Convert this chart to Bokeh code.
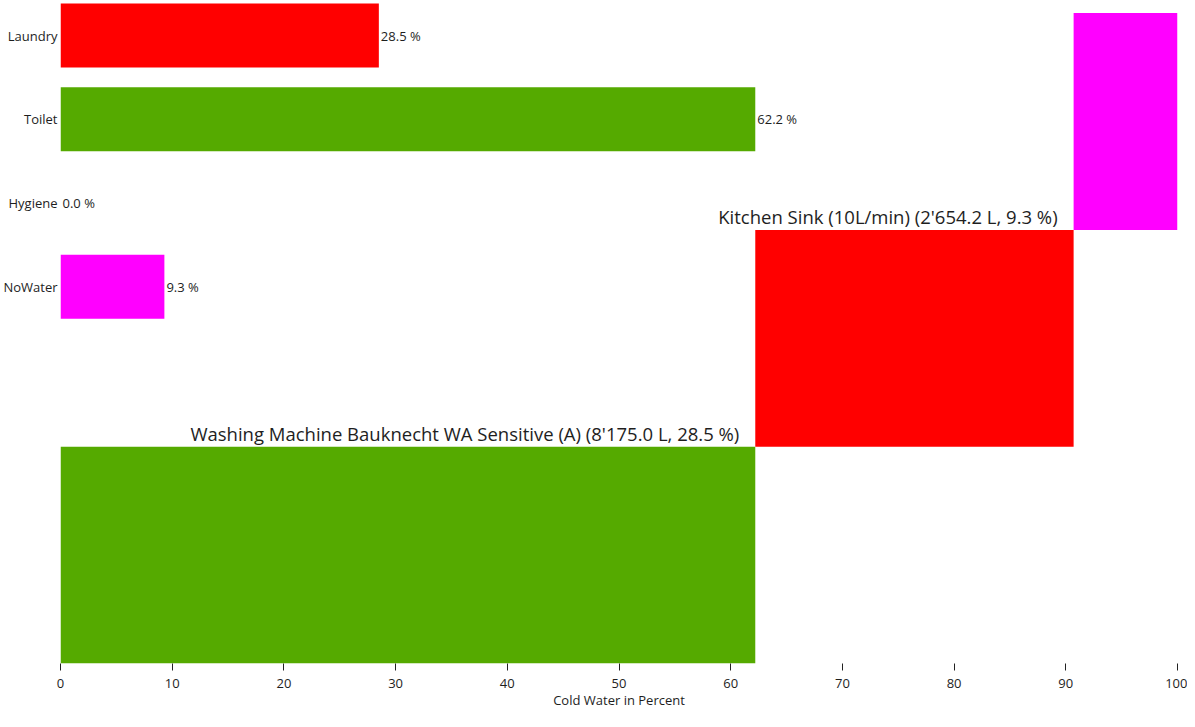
from bokeh.plotting import figure
from bokeh.models import Range1d, FixedTicker, ColumnDataSource
from bokeh.core.properties import value
from bokeh.embed import file_html
from bokeh.resources import INLINE

# ---- data ----
categories = ["Laundry", "Toilet", "Hygiene", "NoWater"]
percent = [28.5, 62.2, 0.0, 9.3]
bar_colors = ["#FF0000", "#55AA00", "#0000FF", "#FF00FF"]

step_order = ["Toilet", "Laundry", "NoWater"]
step_labels = [
    "",
    "Washing Machine Bauknecht WA Sensitive (A) (8'175.0 L, 28.5 %)",
    "Kitchen Sink (10L/min) (2'654.2 L, 9.3 %)",
]
x_ticks = [0, 10, 20, 30, 40, 50, 60, 70, 80, 90, 100]
x_title = "Cold Water in Percent"

FONT = "Open Sans"
TXT = "#1e1e1e"
SMALL = "13px"

# ---- derived sources ----
idx = list(range(len(categories)))
bars = ColumnDataSource(dict(
    y=idx, right=percent, color=bar_colors,
    label=["%.1f %%" % v for v in percent],
))

s_left, s_right, s_bottom, s_top, s_color = [], [], [], [], []
acc = 0.0
for i, name in enumerate(step_order):
    k = categories.index(name)
    s_left.append(acc)
    acc += percent[k]
    s_right.append(acc)
    s_bottom.append(i)
    s_top.append(i + 1)
    s_color.append(bar_colors[k])
steps = ColumnDataSource(dict(left=s_left, right=s_right, bottom=s_bottom,
                              top=s_top, color=s_color, label=step_labels))

# ---- figure ----
p = figure(width=1187, height=711,
           x_range=Range1d(0, 100), y_range=Range1d(7.50, -0.418),
           output_backend="svg", toolbar_location=None,
           min_border_top=0, min_border_right=10, min_border_left=58,
           min_border_bottom=0)
p.extra_y_ranges = {"steps": Range1d(0, 3.058)}
p.outline_line_color = None
p.xgrid.visible = False
p.ygrid.visible = False
p.background_fill_color = "white"
p.border_fill_color = "white"

# big step rectangles
p.quad(left="left", right="right", bottom="bottom", top="top", source=steps,
       fill_color="color", line_color=None, y_range_name="steps")
p.text(x="left", y="bottom", text="label", source=steps, y_range_name="steps",
       text_align="right", text_baseline="bottom", x_offset=-16, y_offset=-1,
       text_font=value(FONT), text_font_size="18.5px", text_color=TXT)

# category bars
p.hbar(y="y", left=0, right="right", height=0.765, source=bars,
       fill_color="color", line_color=None)
p.text(x="right", y="y", text="label", source=bars,
       text_align="left", text_baseline="middle", x_offset=2,
       text_font=value(FONT), text_font_size=SMALL, text_color=TXT)

# x axis
xa = p.xaxis[0]
xa.ticker = FixedTicker(ticks=x_ticks)
xa.axis_line_color = None
xa.major_tick_in = 0
xa.major_tick_out = 7
xa.major_tick_line_color = "#222222"
xa.minor_tick_line_color = None
xa.major_label_standoff = 8
xa.major_label_text_font = FONT
xa.major_label_text_font_size = SMALL
xa.major_label_text_color = TXT
xa.axis_label = x_title
xa.axis_label_standoff = 0
xa.axis_label_text_font = FONT
xa.axis_label_text_font_size = SMALL
xa.axis_label_text_font_style = "normal"
xa.axis_label_text_color = TXT

# y axis
ya = p.yaxis[0]
ya.ticker = FixedTicker(ticks=idx)
ya.major_label_overrides = {i: c for i, c in enumerate(categories)}
ya.axis_line_color = None
ya.major_tick_line_color = None
ya.minor_tick_line_color = None
ya.major_tick_out = 0
ya.major_tick_in = 0
ya.major_label_standoff = 3
ya.major_label_text_font = FONT
ya.major_label_text_font_size = SMALL
ya.major_label_text_color = TXT

open("out.html", "w").write(file_html(p, INLINE))
